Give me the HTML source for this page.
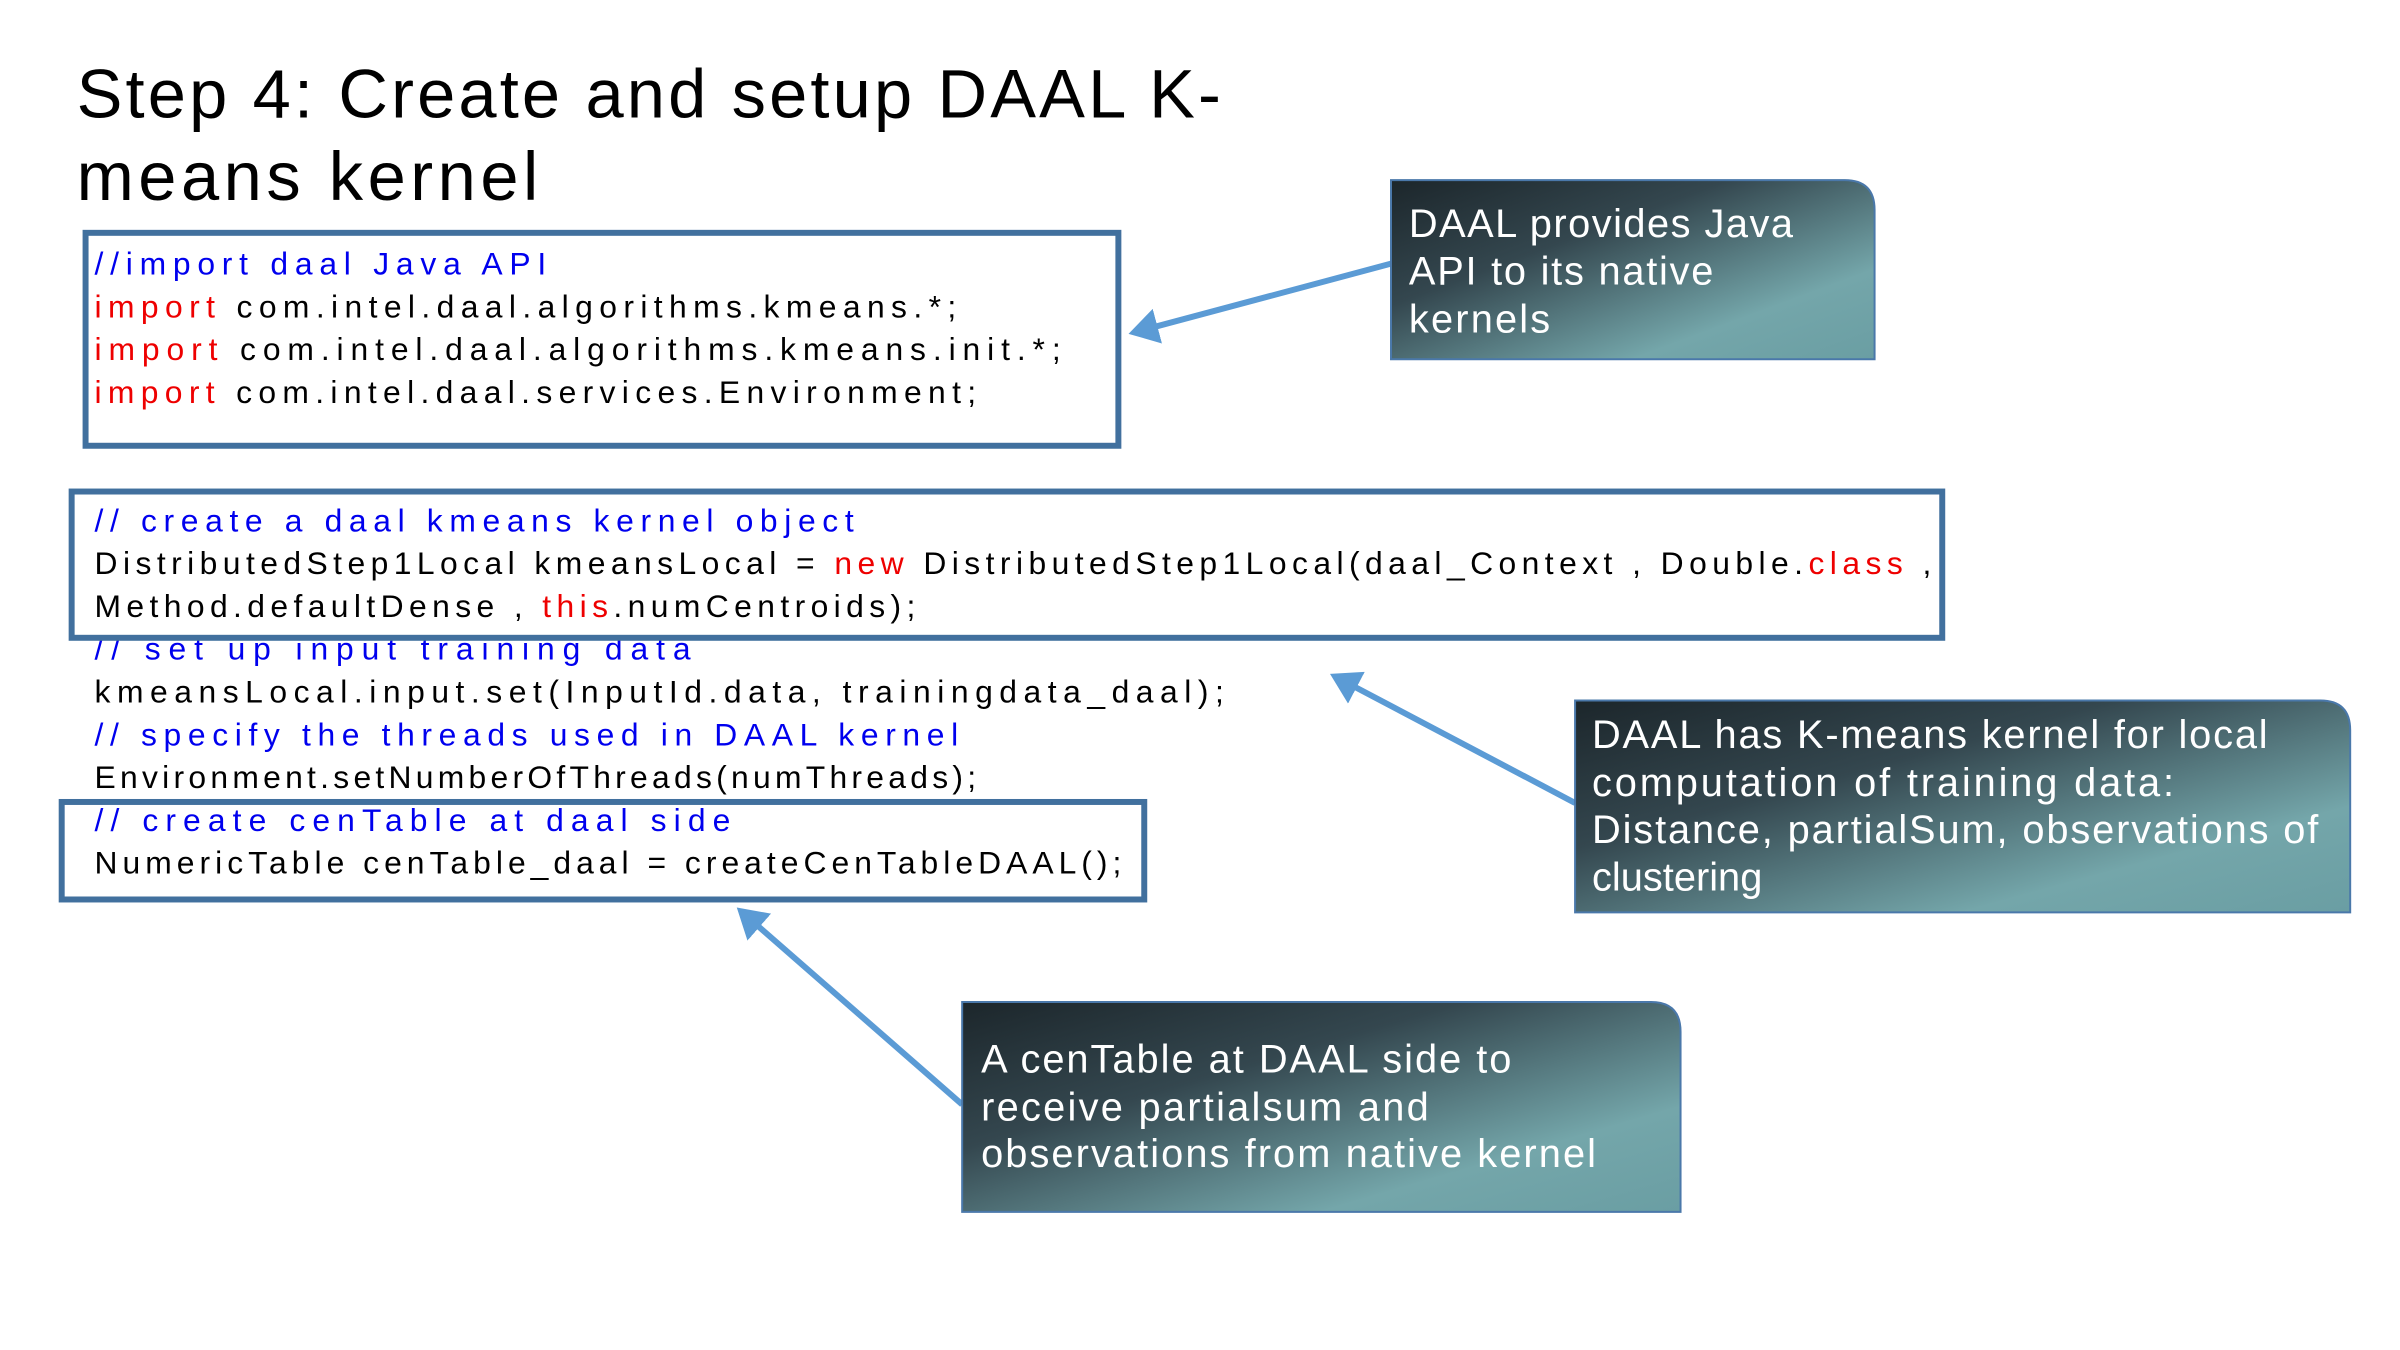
<!DOCTYPE html>
<html><head><meta charset="utf-8"><style>html,body{margin:0;padding:0;background:#fff;}svg{display:block}</style></head>
<body>
<svg width="2400" height="1350" viewBox="0 0 2400 1350" xmlns="http://www.w3.org/2000/svg">
<defs>
<linearGradient id="g" x1="0" y1="0" x2="1" y2="1">
<stop offset="0" stop-color="#1c262b"/>
<stop offset="0.35" stop-color="#34474f"/>
<stop offset="0.75" stop-color="#74a6aa"/>
<stop offset="1" stop-color="#6a9ea3"/>
</linearGradient>
<marker id="ah" markerWidth="6" markerHeight="6" refX="4" refY="3" orient="auto" markerUnits="strokeWidth">
<path d="M0,0 L5,3 L0,6 z" fill="#5b9bd5"/>
</marker>
</defs>
<g transform="scale(0.995)">
<g font-family="Liberation Sans, sans-serif" fill="#000">
<text x="77" y="118" font-size="69" textLength="1150" lengthAdjust="spacing">Step 4: Create and setup DAAL K-</text>
<text x="77" y="201" font-size="69" textLength="464" lengthAdjust="spacing">means kernel</text>
</g>

<g font-family="Liberation Sans, sans-serif" font-size="32">
<text x="95" y="276" fill="#0000ee" textLength="454" lengthAdjust="spacing">//import daal Java API</text>
<text x="95" y="319" textLength="866" lengthAdjust="spacing"><tspan fill="#e00">import</tspan> com.intel.daal.algorithms.kmeans.*;</text>
<text x="95" y="362" textLength="971" lengthAdjust="spacing"><tspan fill="#e00">import</tspan> com.intel.daal.algorithms.kmeans.init.*;</text>
<text x="95" y="405" textLength="886" lengthAdjust="spacing"><tspan fill="#e00">import</tspan> com.intel.daal.services.Environment;</text>

<text x="95" y="534" fill="#0000ee" textLength="763" lengthAdjust="spacing">// create a daal kmeans kernel object</text>
<text x="95" y="577" textLength="1846" lengthAdjust="spacing">DistributedStep1Local kmeansLocal = <tspan fill="#e00">new</tspan> DistributedStep1Local(daal_Context , Double.<tspan fill="#e00">class</tspan> ,</text>
<text x="95" y="620" textLength="825" lengthAdjust="spacing">Method.defaultDense , <tspan fill="#e00">this</tspan>.numCentroids);</text>
<text x="95" y="663" fill="#0000ee" textLength="599" lengthAdjust="spacing">// set up input training data</text>
<text x="95" y="706" textLength="1135" lengthAdjust="spacing">kmeansLocal.input.set(InputId.data, trainingdata_daal);</text>
<text x="95" y="749" fill="#0000ee" textLength="868" lengthAdjust="spacing">// specify the threads used in DAAL kernel</text>
<text x="95" y="792" textLength="886" lengthAdjust="spacing">Environment.setNumberOfThreads(numThreads);</text>
<text x="95" y="835" fill="#0000ee" textLength="639" lengthAdjust="spacing">// create cenTable at daal side</text>
<text x="95" y="878" textLength="1032" lengthAdjust="spacing">NumericTable cenTable_daal = createCenTableDAAL();</text>
</g>

<g fill="none" stroke="#41709e" stroke-width="6">
<rect x="86" y="234" width="1038" height="214"/>
<rect x="72" y="494" width="1880" height="147"/>
<rect x="62" y="806" width="1088" height="98"/>
</g>

<g stroke="#5b9bd5" stroke-width="6" fill="none">
<line x1="1398" y1="265" x2="1140" y2="334" marker-end="url(#ah)"/>
<line x1="1583" y1="807" x2="1342" y2="680" marker-end="url(#ah)"/>
<line x1="967" y1="1110" x2="745" y2="916" marker-end="url(#ah)"/>
</g>

<g stroke="#4a78aa" stroke-width="2" fill="url(#g)">
<path d="M1398,181 H1854 Q1884,181 1884,211 V361 H1398 Z"/>
<path d="M1583,704 H2332 Q2362,704 2362,734 V917 H1583 Z"/>
<path d="M967,1007 H1659 Q1689,1007 1689,1037 V1218 H967 Z"/>
</g>

<g font-family="Liberation Sans, sans-serif" font-size="40" fill="#fff">
<text x="1416" y="238" textLength="386" lengthAdjust="spacing">DAAL provides Java</text>
<text x="1416" y="286" textLength="306" lengthAdjust="spacing">API to its native</text>
<text x="1416" y="334" textLength="142" lengthAdjust="spacing">kernels</text>
<text x="1600" y="752" textLength="679" lengthAdjust="spacing">DAAL has K-means kernel for local</text>
<text x="1600" y="800" textLength="585" lengthAdjust="spacing">computation of training data:</text>
<text x="1600" y="847" textLength="730" lengthAdjust="spacing">Distance, partialSum, observations of</text>
<text x="1600" y="895">clustering</text>
<text x="986" y="1078" textLength="533" lengthAdjust="spacing">A cenTable at DAAL side to</text>
<text x="986" y="1126" textLength="450" lengthAdjust="spacing">receive partialsum and</text>
<text x="986" y="1173" textLength="618" lengthAdjust="spacing">observations from native kernel</text>
</g>
</g>
</svg>
</body></html>
